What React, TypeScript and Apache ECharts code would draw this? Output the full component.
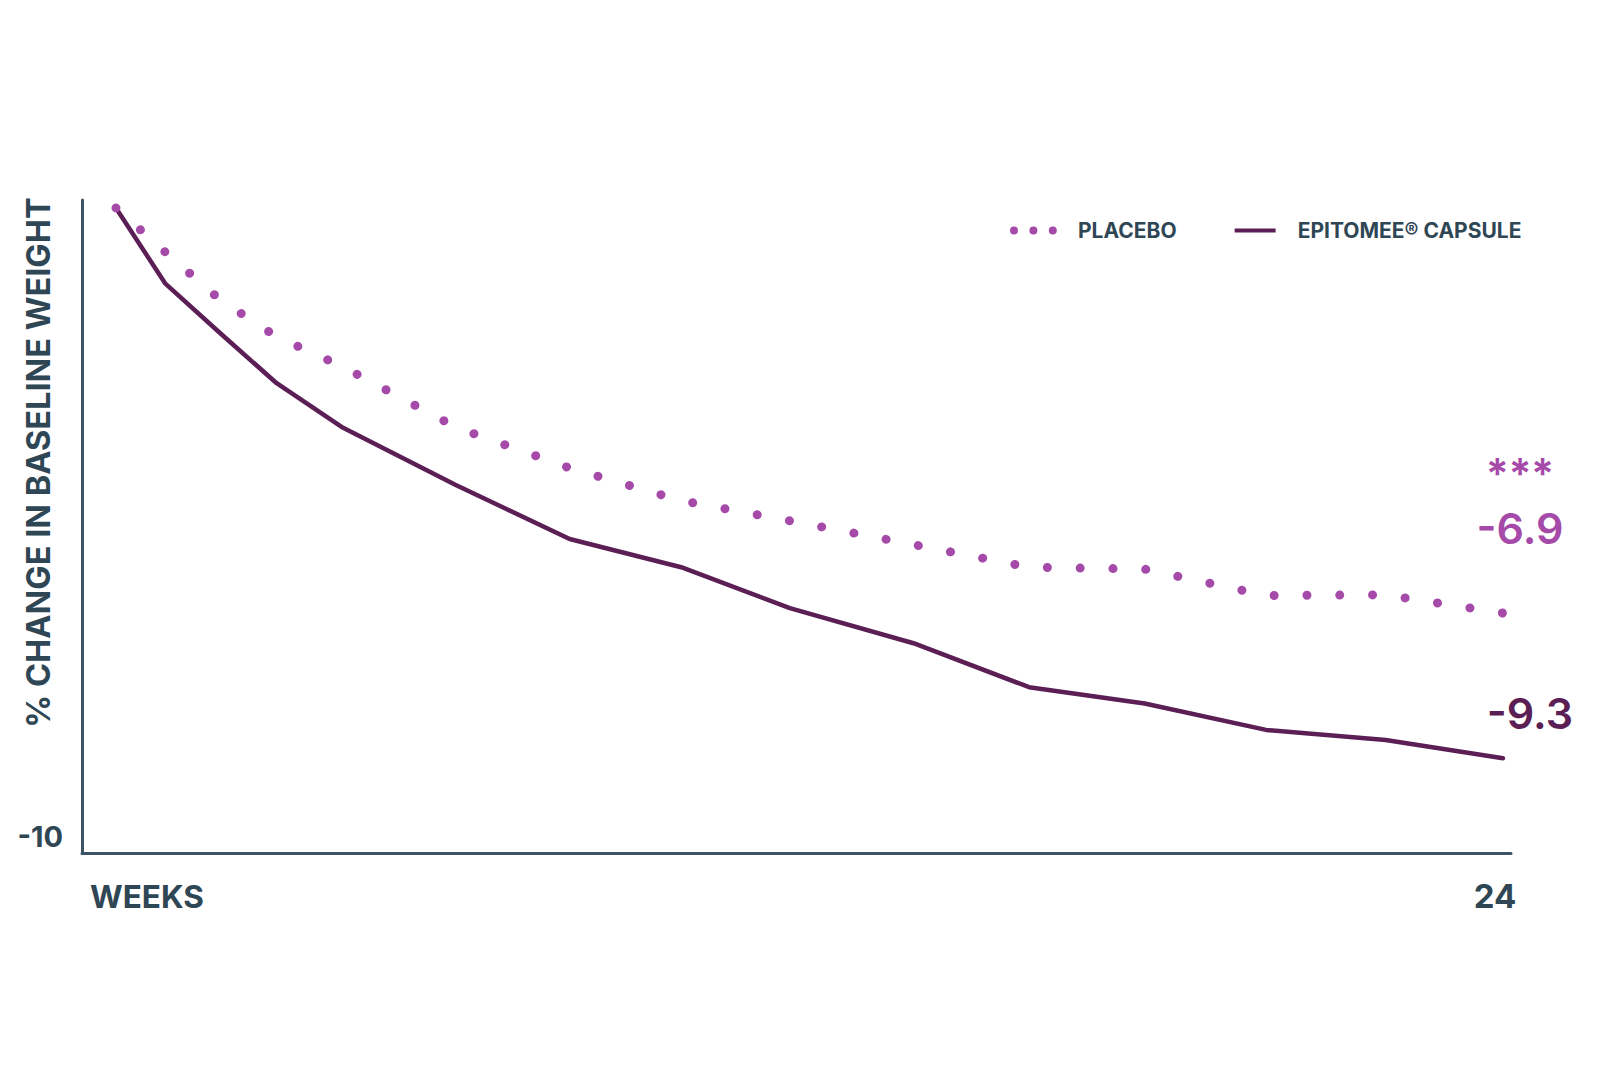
import React, { useEffect, useRef } from "react";
import * as echarts from "echarts";

// ---- data ----
const WEEKS = [0, 0.85, 1.8, 2.78, 3.93, 5.88, 7.85, 9.78, 11.66, 13.8, 15.8, 17.8, 19.9, 21.97, 24];
const PLACEBO = [0, -0.7, -1.46, -2.05, -2.53, -3.49, -4.14, -4.66, -4.98, -5.36, -5.72, -5.75, -6.17, -6.16, -6.45];
const EPITOMEE = [0, -1.2, -1.99, -2.79, -3.5, -4.41, -5.27, -5.72, -6.37, -6.93, -7.63, -7.89, -8.31, -8.47, -8.76];
const X_TICKS = [24];
const Y_TICKS = [-10];
const SERIES_NAMES = ["PLACEBO", "EPITOMEE® CAPSULE"];
const END_LABELS = ["-6.9", "-9.3"];
const SIGNIFICANCE = "***";

const FONT = "Inter, 'Open Sans', sans-serif";
const INK = "#2f4655";
const AXIS = "#3f5462";
const PLACEBO_COLOR = "#a54aa9";
const EPI_COLOR = "#5b1f56";

const PLACEBO_ICON =
  "path://M0,0M63,8M0,4a4,4 0 1,0 8,0a4,4 0 1,0 -8,0zM19.4,4a4,4 0 1,0 8,0a4,4 0 1,0 -8,0zM38.8,4a4,4 0 1,0 8,0a4,4 0 1,0 -8,0z";
const EPI_ICON = "path://M0,0M63,8M5,2.1L46,2.1L46,5.9L5,5.9z";

export default function App() {
  const ref = useRef<HTMLDivElement>(null);

  useEffect(() => {
    if (!ref.current) return;
    const chart = echarts.init(ref.current, undefined, { renderer: "svg" });
    const last = WEEKS.length - 1;
    const option: any = {
      animation: false,
      backgroundColor: "#ffffff",
      grid: {
        left: 82,
        right: 89,
        top: 200,
        bottom: 214,
        containLabel: false,
        outerBoundsMode: "none",
      },
      legend: {
        left: 1010,
        top: 220,
        padding: 0,
        itemWidth: 63,
        itemHeight: 8,
        itemGap: 53,
        selectedMode: false,
        textStyle: { fontFamily: FONT, fontSize: 21, fontWeight: 700, color: INK },
        data: [
          { name: SERIES_NAMES[0], icon: PLACEBO_ICON, itemStyle: { color: PLACEBO_COLOR, borderWidth: 0 } },
          { name: SERIES_NAMES[1], icon: EPI_ICON, itemStyle: { color: EPI_COLOR, borderWidth: 0 } },
        ],
      },
      xAxis: {
        type: "value",
        min: -0.588,
        max: 24.139,
        name: "WEEKS",
        nameLocation: "start",
        nameGap: -8,
        nameMoveOverlap: false,
        nameTextStyle: {
          fontFamily: FONT,
          fontSize: 31.5,
          fontWeight: 700,
          color: INK,
          align: "left",
          verticalAlign: "top",
          padding: [27, 0, 0, 0],
        },
        axisLine: { show: true, onZero: false, lineStyle: { color: AXIS, width: 3 } },
        axisTick: { show: false },
        splitLine: { show: false },
        axisLabel: {
          customValues: X_TICKS,
          margin: 26,
          fontFamily: FONT,
          fontSize: 33,
          fontWeight: 700,
          color: INK,
          padding: [0, 16, 0, 0],
        },
      },
      yAxis: {
        type: "value",
        min: -10.27,
        max: 0.127,
        name: "% CHANGE IN BASELINE WEIGHT",
        nameLocation: "middle",
        nameRotate: 90,
        nameGap: 27,
        nameMoveOverlap: false,
        nameTextStyle: {
          fontFamily: FONT,
          fontSize: 32.5,
          fontWeight: 700,
          color: INK,
          padding: [0, 0, 0, 128],
        },
        axisLine: { show: true, onZero: false, lineStyle: { color: AXIS, width: 3 } },
        axisTick: { show: false },
        splitLine: { show: false },
        axisLabel: {
          customValues: Y_TICKS,
          margin: 19,
          fontFamily: FONT,
          fontSize: 29,
          fontWeight: 700,
          color: INK,
        },
      },
      series: [
        {
          type: "line",
          name: SERIES_NAMES[0],
          data: WEEKS.map((w, i) => [w, PLACEBO[i]]),
          symbol: "none",
          z: 3,
          lineStyle: { color: PLACEBO_COLOR, width: 9, type: [0.001, 32.8], cap: "round" },
          itemStyle: { color: PLACEBO_COLOR },
          emphasis: { disabled: true },
          markPoint: {
            symbol: "circle",
            symbolSize: 0,
            silent: true,
            data: [
              {
                coord: [WEEKS[last], PLACEBO[last]],
                label: {
                  show: true,
                  formatter: END_LABELS[0],
                  offset: [17, -85],
                  fontFamily: FONT,
                  fontSize: 43,
                  fontWeight: 600,
                  color: PLACEBO_COLOR,
                },
              },
              {
                coord: [WEEKS[last], PLACEBO[last]],
                label: {
                  show: true,
                  formatter: SIGNIFICANCE,
                  offset: [17, -140],
                  fontFamily: FONT,
                  fontSize: 42,
                  fontWeight: 600,
                  color: PLACEBO_COLOR,
                },
              },
            ],
          },
        },
        {
          type: "line",
          name: SERIES_NAMES[1],
          data: WEEKS.map((w, i) => [w, EPITOMEE[i]]),
          symbol: "none",
          z: 2,
          lineStyle: { color: EPI_COLOR, width: 4.5, cap: "round", join: "round" },
          itemStyle: { color: EPI_COLOR },
          emphasis: { disabled: true },
          markPoint: {
            symbol: "circle",
            symbolSize: 0,
            silent: true,
            data: [
              {
                coord: [WEEKS[last], EPITOMEE[last]],
                label: {
                  show: true,
                  formatter: END_LABELS[1],
                  offset: [27, -45],
                  fontFamily: FONT,
                  fontSize: 43,
                  fontWeight: 600,
                  color: EPI_COLOR,
                },
              },
            ],
          },
        },
      ],
    };
    chart.setOption(option);
    return () => chart.dispose();
  }, []);

  return (
    <div
      ref={ref}
      style={{ position: "fixed", left: 0, top: 0, width: 1600, height: 1067, background: "#fff" }}
    />
  );
}
